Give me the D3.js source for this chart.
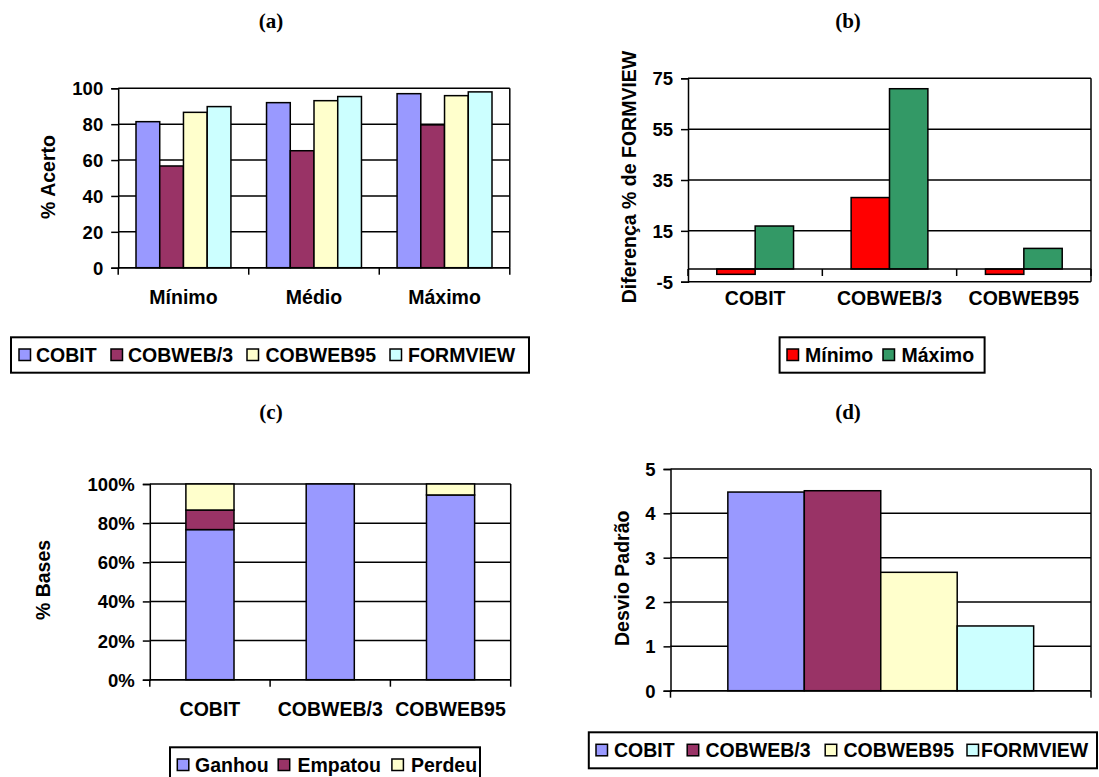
<!DOCTYPE html>
<html>
<head>
<meta charset="utf-8">
<script src="https://cdn.jsdelivr.net/npm/d3@7"></script>
<style>
  html, body { margin: 0; padding: 0; background: #fff; }
  svg { display: block; }
  text { font-family: "Liberation Sans", Arial, Helvetica, sans-serif; font-weight: bold; fill: #000; }
  .title { font-family: "Liberation Serif", "Times New Roman", serif; font-size: 21px; }
</style>
</head>
<body>
<svg id="fig" width="1099" height="777"></svg>
<script>
// ---------------- DATA ----------------
// (a) % Acerto
const catsA = ["Mínimo", "Médio", "Máximo"];
const seriesA = ["COBIT", "COBWEB/3", "COBWEB95", "FORMVIEW"];
const cobitA = [81.4, 92.0, 97.0];
const cobweb3A = [56.7, 65.2, 79.6];
const cobweb95A = [86.6, 93.1, 95.9];
const formviewA = [89.8, 95.4, 98.0];
const ticksA = [0, 20, 40, 60, 80, 100];

// (b) Diferença % de FORMVIEW
const catsB = ["COBIT", "COBWEB/3", "COBWEB95"];
const seriesB = ["Mínimo", "Máximo"];
const minimoB = [-2.1, 28.1, -2.1];
const maximoB = [16.9, 70.9, 8.1];
const ticksB = [-5, 15, 35, 55, 75];

// (c) % Bases
const catsC = ["COBIT", "COBWEB/3", "COBWEB95"];
const seriesC = ["Ganhou", "Empatou", "Perdeu"];
const ganhouC = [76.7, 100, 94.4];
const empatouC = [10.0, 0, 0];
const perdeuC = [13.3, 0, 5.6];
const ticksC = [0, 20, 40, 60, 80, 100];

// (d) Desvio Padrão
const seriesD = ["COBIT", "COBWEB/3", "COBWEB95", "FORMVIEW"];
const desvioD = [4.48, 4.51, 2.67, 1.46];
const ticksD = [0, 1, 2, 3, 4, 5];

// ---------------- STYLE ----------------
const colors = {
  "COBIT": "#9999FF", "COBWEB/3": "#993366", "COBWEB95": "#FFFFCC", "FORMVIEW": "#CCFFFF",
  "Mínimo": "#FF0000", "Máximo": "#339966",
  "Ganhou": "#9999FF", "Empatou": "#993366", "Perdeu": "#FFFFCC"
};
const FS = 19.5, TFS = 18.5, LW = 1.5, GAP = 1.5;

const svg = d3.select("#fig");
svg.append("rect").attr("width", 1099).attr("height", 777).attr("fill", "#fff");

function panel(cfg) {
  const g = svg.append("g");
  const { x0, x1, y0, y1 } = cfg.plot;
  const y = d3.scaleLinear().domain(cfg.yDomain).range([y1, y0]);
  const W = (x1 - x0) / cfg.cats.length;

  // gridlines
  g.selectAll("line.grid").data(cfg.ticks).join("line")
    .attr("x1", x0).attr("x2", x1).attr("y1", d => y(d)).attr("y2", d => y(d))
    .attr("stroke", "#000").attr("stroke-width", LW);
  // right border
  g.append("line").attr("x1", x1).attr("x2", x1).attr("y1", y0).attr("y2", y1)
    .attr("stroke", "#000").attr("stroke-width", LW);

  // bars
  const xc = d3.scaleBand().domain(cfg.cats).range([x0, x1]).padding(0);
  if (cfg.stacked) {
    const xb = d3.scaleBand().domain(cfg.cats).range([x0, x1])
      .paddingInner(GAP / (1 + GAP)).paddingOuter(GAP / (1 + GAP) / 2);
    const rows = cfg.cats.map((c, i) => {
      const o = { cat: c };
      cfg.series.forEach((s, j) => o[s] = cfg.values[j][i]);
      return o;
    });
    const stack = d3.stack().keys(cfg.series)(rows);
    stack.forEach(layer => {
      g.selectAll(null).data(layer.filter(d => d[1] - d[0] > 0)).join("rect")
        .attr("x", d => xb(d.data.cat)).attr("width", xb.bandwidth())
        .attr("y", d => y(d[1])).attr("height", d => y(d[0]) - y(d[1]))
        .attr("fill", colors[layer.key]).attr("stroke", "#000").attr("stroke-width", LW);
    });
  } else {
    const n = cfg.series.length;
    const off = W * GAP / (2 * (n + GAP));
    const xs = d3.scaleBand().domain(cfg.series).range([off, W - off]).padding(0);
    cfg.series.forEach((s, j) => {
      g.selectAll(null).data(cfg.values[j]).join("rect")
        .attr("x", (d, i) => xc(cfg.cats[i]) + xs(s)).attr("width", xs.bandwidth())
        .attr("y", d => y(Math.max(d, 0))).attr("height", d => Math.abs(y(d) - y(0)))
        .attr("fill", colors[s]).attr("stroke", "#000").attr("stroke-width", LW);
    });
  }

  // zero / category axis line
  const yAxisPos = y(cfg.yDomain[0] < 0 ? 0 : cfg.yDomain[0]);
  g.append("line").attr("x1", x0).attr("x2", x1).attr("y1", yAxisPos).attr("y2", yAxisPos)
    .attr("stroke", "#000").attr("stroke-width", LW);
  // category boundary ticks
  const bnds = d3.range(cfg.cats.length + 1).map(i => x0 + i * W);
  g.selectAll(null).data(bnds).join("line")
    .attr("x1", d => d).attr("x2", d => d).attr("y1", yAxisPos).attr("y2", yAxisPos + 7)
    .attr("stroke", "#000").attr("stroke-width", LW);

  // value axis
  const ax = d3.axisLeft(y).tickValues(cfg.ticks).tickSize(7).tickPadding(8)
    .tickFormat(cfg.fmt || (d => d));
  const ga = g.append("g").attr("transform", `translate(${x0},0)`).call(ax);
  ga.select(".domain").attr("stroke", "#000").attr("stroke-width", LW);
  ga.selectAll(".tick line").attr("stroke", "#000").attr("stroke-width", LW);
  ga.selectAll(".tick text").attr("font-size", TFS).attr("font-family", null)
    .attr("dy", "0.35em");
  ga.attr("font-family", null).attr("font-size", null);

  // category labels
  if (cfg.showCats !== false) {
    g.selectAll(null).data(cfg.cats).join("text")
      .attr("x", d => xc(d) + xc.bandwidth() / 2).attr("y", cfg.catY).attr("dy", "0.35em")
      .attr("text-anchor", "middle").attr("font-size", FS).text(d => d);
  }

  // y title
  g.append("text")
    .attr("transform", `translate(${cfg.yLabelPos[0]},${cfg.yLabelPos[1]}) rotate(-90)`)
    .attr("text-anchor", "middle").attr("dy", "0.35em").attr("font-size", FS).text(cfg.yLabel);

  // panel title
  g.append("text").attr("class", "title").attr("x", cfg.titlePos[0]).attr("y", cfg.titlePos[1])
    .attr("text-anchor", "middle").text(cfg.title);

  // legend
  const L = cfg.legend;
  g.append("rect").attr("x", L.x0).attr("y", L.y0).attr("width", L.x1 - L.x0).attr("height", L.y1 - L.y0)
    .attr("fill", "#fff").attr("stroke", "#000").attr("stroke-width", 2);
  const cy = (L.y0 + L.y1) / 2;
  cfg.series.forEach((s, j) => {
    g.append("rect").attr("x", L.sw[j]).attr("y", cy - 6).attr("width", 11.5).attr("height", 11.5)
      .attr("fill", colors[s]).attr("stroke", "#000").attr("stroke-width", 1.5);
    g.append("text").attr("x", L.tx[j]).attr("y", cy).attr("dy", "0.35em")
      .attr("font-size", FS).text(s);
  });
}

panel({
  title: "(a)", titlePos: [271, 28],
  plot: { x0: 118.2, x1: 509.8, y0: 88.3, y1: 267.7 },
  yDomain: [0, 100], ticks: ticksA, cats: catsA, series: seriesA,
  values: [cobitA, cobweb3A, cobweb95A, formviewA],
  catY: 297, yLabel: "% Acerto", yLabelPos: [48.5, 177],
  legend: { x0: 11, x1: 529, y0: 337.3, y1: 372.7, sw: [19, 111, 247, 390], tx: [36, 128, 265.5, 408] }
});

panel({
  title: "(b)", titlePos: [848, 28],
  plot: { x0: 688, x1: 1091, y0: 78.3, y1: 281.7 },
  yDomain: [-5, 75], ticks: ticksB, cats: catsB, series: seriesB,
  values: [minimoB, maximoB],
  catY: 298.3, yLabel: "Diferença % de FORMVIEW", yLabelPos: [629.5, 177],
  legend: { x0: 779.6, x1: 984.6, y0: 337.3, y1: 372.7, sw: [787, 883], tx: [805, 901.5] }
});

panel({
  title: "(c)", titlePos: [271, 419], stacked: true,
  plot: { x0: 149.8, x1: 510.7, y0: 484, y1: 679.7 },
  yDomain: [0, 100], ticks: ticksC, cats: catsC, series: seriesC,
  values: [ganhouC, empatouC, perdeuC], fmt: d => d + "%",
  catY: 709.3, yLabel: "% Bases", yLabelPos: [43.5, 580],
  legend: { x0: 170, x1: 480, y0: 747.3, y1: 782.7, sw: [177.3, 278.2, 391.9], tx: [195, 297.5, 411] }
});

panel({
  title: "(d)", titlePos: [848, 419],
  plot: { x0: 670.5, x1: 1091, y0: 469, y1: 690.7 },
  yDomain: [0, 5], ticks: ticksD, cats: [""], series: seriesD, showCats: false,
  values: seriesD.map((s, j) => [desvioD[j]]),
  catY: 720, yLabel: "Desvio Padrão", yLabelPos: [622.5, 578.3],
  legend: { x0: 588.8, x1: 1097, y0: 732.3, y1: 768.3, sw: [596, 687.2, 825.2, 967], tx: [614, 705.5, 843.5, 981] }
});
</script>
</body>
</html>
